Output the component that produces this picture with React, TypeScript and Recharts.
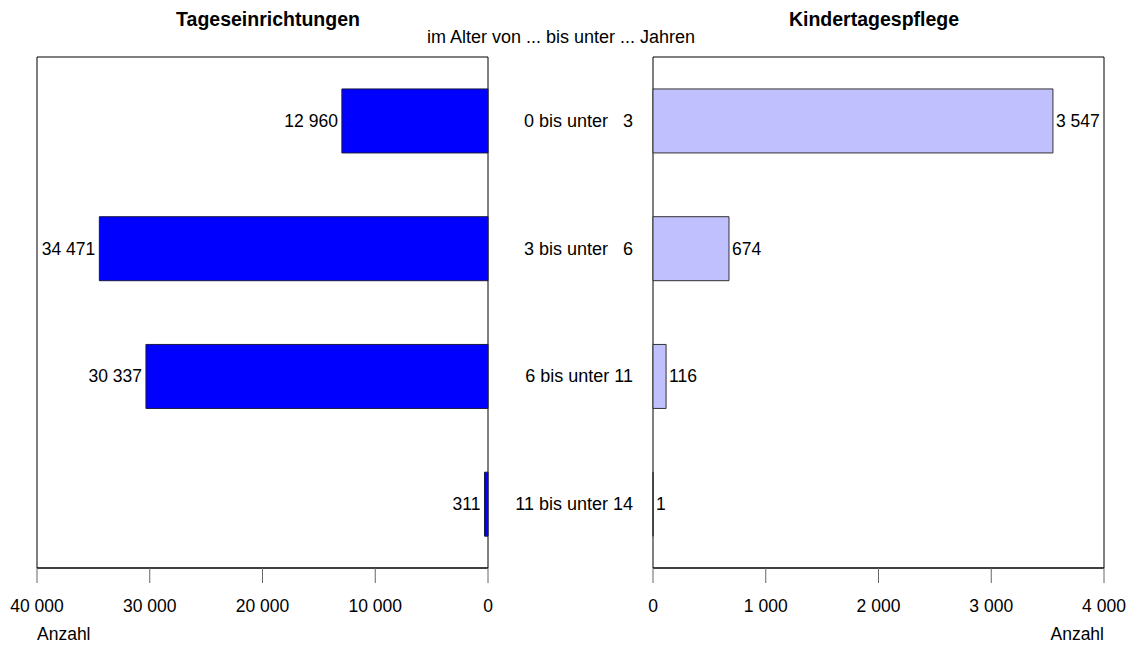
import React from 'react';
import { BarChart, Bar, XAxis, YAxis, ReferenceArea, LabelList } from 'recharts';

const categories = ['0 bis unter   3', '3 bis unter   6', '6 bis unter 11', '11 bis unter 14'];
const tagesValues = [12960, 34471, 30337, 311];
const pflegeValues = [3547, 674, 116, 1];
const tagesTicks = [0, 10000, 20000, 30000, 40000];
const pflegeTicks = [0, 1000, 2000, 3000, 4000];
const titleLeft = 'Tageseinrichtungen';
const titleRight = 'Kindertagespflege';
const subtitle = 'im Alter von ... bis unter ... Jahren';
const axisLabel = 'Anzahl';

const tagesData = categories.map((name, i) => ({ name, value: tagesValues[i] }));
const pflegeData = categories.map((name, i) => ({ name, value: pflegeValues[i] }));

const FONT = '"Liberation Sans", Arial, Helvetica, sans-serif';
const FS = 17.5;
const fmt = (v: number) => String(v).replace(/\B(?=(\d{3})+(?!\d))/g, ' ');

const LeftLabel = (props: any) => {
  const { x, y, width, height, value } = props;
  const left = Math.min(x, x + width);
  return (
    <text x={left - 4} y={y + height / 2} textAnchor="end" dominantBaseline="central" fontSize={FS} fontFamily={FONT} fill="#000">
      {fmt(value)}
    </text>
  );
};

const RightLabel = (props: any) => {
  const { x, y, width, height, value } = props;
  const right = Math.max(x, x + width);
  return (
    <text x={right + 3} y={y + height / 2} textAnchor="start" dominantBaseline="central" fontSize={FS} fontFamily={FONT} fill="#000">
      {fmt(value)}
    </text>
  );
};

const CatTick = (props: any) => {
  const { x, y, payload } = props;
  return (
    <text x={x} y={y} textAnchor="end" dominantBaseline="central" fontSize={18} fontFamily={FONT} fill="#000" style={{ whiteSpace: 'pre' }} xmlSpace="preserve">
      {payload.value}
    </text>
  );
};

const tickStyle = { fill: '#000', fontSize: FS, fontFamily: FONT };

export default function App() {
  return (
    <div style={{ position: 'absolute', left: 0, top: 0, width: 1133, height: 646, background: '#fff', fontFamily: FONT, overflow: 'hidden' }}>
      <div style={{ position: 'absolute', left: 0, top: 0 }}>
        <BarChart width={560} height={646} layout="vertical" data={tagesData} margin={{ top: 57, right: 72, bottom: 6, left: 37 }} barCategoryGap="25%">
          <XAxis
            type="number"
            domain={[0, 40000]}
            ticks={tagesTicks}
            reversed
            interval={0}
            tickFormatter={fmt}
            tickSize={15}
            tickMargin={17}
            height={72}
            axisLine={{ stroke: '#000' }}
            tickLine={{ stroke: '#666' }}
            tick={tickStyle}
            label={{ value: axisLabel, position: 'insideBottomLeft', offset: 0, fill: '#000', fontSize: FS, fontFamily: FONT }}
          />
          <YAxis type="category" dataKey="name" hide />
          <Bar dataKey="value" fill="#0000FF" stroke="#1a1a40" strokeWidth={1} isAnimationActive={false}>
            <LabelList dataKey="value" content={LeftLabel} />
          </Bar>
          <ReferenceArea x1={0} x2={40000} fill="none" fillOpacity={0} stroke="#000" strokeWidth={1} ifOverflow="visible" />
        </BarChart>
      </div>
      <div style={{ position: 'absolute', left: 490, top: 0 }}>
        <BarChart width={643} height={646} layout="vertical" data={pflegeData} margin={{ top: 57, right: 29, bottom: 6, left: 0 }} barCategoryGap="25%">
          <XAxis
            type="number"
            domain={[0, 4000]}
            ticks={pflegeTicks}
            interval={0}
            tickFormatter={fmt}
            tickSize={15}
            tickMargin={17}
            height={72}
            axisLine={{ stroke: '#000' }}
            tickLine={{ stroke: '#666' }}
            tick={tickStyle}
            label={{ value: axisLabel, position: 'insideBottomRight', offset: 0, fill: '#000', fontSize: FS, fontFamily: FONT }}
          />
          <YAxis type="category" dataKey="name" width={163} axisLine={false} tickLine={false} tickSize={0} tickMargin={20} tick={CatTick} />
          <Bar dataKey="value" fill="#C0C0FF" stroke="#333" strokeWidth={1} isAnimationActive={false}>
            <LabelList dataKey="value" content={RightLabel} />
          </Bar>
          <ReferenceArea x1={0} x2={4000} fill="none" fillOpacity={0} stroke="#000" strokeWidth={1} ifOverflow="visible" />
        </BarChart>
      </div>
      <div style={{ position: 'absolute', left: 268, top: 20 - 0.49 * 19.5, transform: 'translateX(-50%)', fontSize: 19.5, lineHeight: 1, fontWeight: 'bold', whiteSpace: 'nowrap', color: '#000' }}>
        {titleLeft}
      </div>
      <div style={{ position: 'absolute', left: 874, top: 20 - 0.49 * 19.5, transform: 'translateX(-50%)', fontSize: 19.5, lineHeight: 1, fontWeight: 'bold', whiteSpace: 'nowrap', color: '#000' }}>
        {titleRight}
      </div>
      <div style={{ position: 'absolute', left: 561, top: 37 - 0.49 * 18, transform: 'translateX(-50%)', fontSize: 18, lineHeight: 1, whiteSpace: 'nowrap', color: '#000' }}>
        {subtitle}
      </div>
    </div>
  );
}
